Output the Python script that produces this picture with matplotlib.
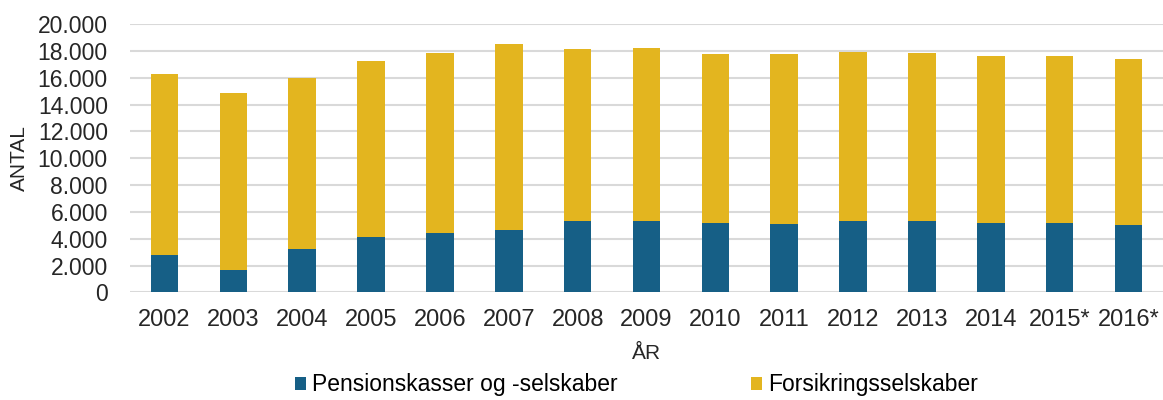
import numpy as np
import matplotlib.pyplot as plt
from matplotlib.ticker import FuncFormatter

plt.rcParams['font.family'] = ['Liberation Sans', 'DejaVu Sans']

# data
years = ['2002', '2003', '2004', '2005', '2006', '2007', '2008', '2009',
         '2010', '2011', '2012', '2013', '2014', '2015*', '2016*']
pension = [2800, 1700, 3200, 4150, 4450, 4650, 5300, 5300,
           5200, 5100, 5300, 5350, 5200, 5200, 5000]
totals = [16300, 14850, 16000, 17250, 17850, 18500, 18150, 18200,
          17750, 17750, 17900, 17850, 17650, 17650, 17400]
forsikring = [t - p for t, p in zip(totals, pension)]

blue = '#165F86'
gold = '#E3B51F'

fig = plt.figure(figsize=(11.63, 4.0), dpi=100)
ax = fig.add_axes([0.1118, 0.269, 0.8882, 0.671])

x = np.arange(len(years))
ax.bar(x, pension, width=0.4, color=blue, label='Pensionskasser og -selskaber', zorder=3)
ax.bar(x, forsikring, width=0.4, bottom=pension, color=gold, label='Forsikringsselskaber', zorder=3)

ax.set_ylim(0, 20000)
ax.set_xlim(-0.5, 14.5)
ax.set_yticks(range(0, 20001, 2000))
ax.yaxis.set_major_formatter(FuncFormatter(lambda v, p: f'{int(v):,}'.replace(',', '.')))
ax.set_xticks(x)
ax.set_xticklabels(years)

ax.grid(axis='y', color='#D9D9D9', linewidth=1.5, zorder=0)
for s in ax.spines.values():
    s.set_visible(False)
ax.tick_params(axis='both', length=0, colors='#262626')
ax.tick_params(axis='x', pad=12, labelsize=17)
ax.tick_params(axis='y', pad=16, labelsize=16.5)

ax.set_xlabel('ÅR', fontsize=15, color='#262626', labelpad=9)
ax.set_ylabel('ANTAL', fontsize=15, color='#262626', labelpad=6)

ax.legend(loc='center', bbox_to_anchor=(0.49, -0.345), ncol=2, frameon=False,
          fontsize=16.5, handlelength=0.5, handleheight=0.5, handletextpad=0.25,
          columnspacing=5.8)

fig.savefig('out.png', dpi=100)
